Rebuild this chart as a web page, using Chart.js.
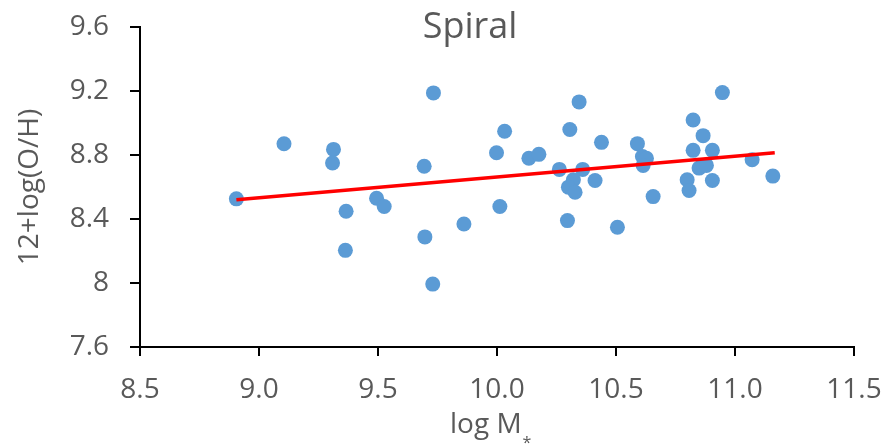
<!DOCTYPE html>
<html>
<head>
<meta charset="utf-8">
<script src="https://cdn.jsdelivr.net/npm/chart.js@4"></script>
<style>
  html, body { margin: 0; padding: 0; background: #fff; }
  #wrap { width: 886px; height: 444px; }
</style>
</head>
<body>
<div id="wrap"><canvas id="chartSpiral"></canvas></div>
<script>
// valores
const logMass = [8.905, 9.105, 9.313, 9.309, 9.366, 9.363, 9.733, 9.694, 9.494, 9.526,
  9.697, 9.73, 9.861, 10.345, 10.032, 9.998, 10.134, 10.176, 10.306, 10.439,
  10.59, 10.824, 10.866, 10.824, 10.262, 10.36, 10.321, 10.3, 10.328, 10.412,
  10.611, 10.628, 10.614, 10.656, 10.799, 10.807, 10.849, 10.012, 10.296, 10.506,
  10.947, 10.905, 10.88, 11.072, 11.159, 10.905];
const logOH = [8.526, 8.87, 8.835, 8.75, 8.448, 8.204, 9.188, 8.73, 8.53, 8.478,
  8.288, 7.993, 8.369, 9.132, 8.948, 8.814, 8.78, 8.804, 8.959, 8.879,
  8.871, 9.019, 8.921, 8.829, 8.71, 8.71, 8.645, 8.599, 8.567, 8.641,
  8.791, 8.78, 8.735, 8.54, 8.645, 8.578, 8.718, 8.478, 8.39, 8.348,
  9.19, 8.829, 8.735, 8.77, 8.668, 8.641];

// linea de tendencia (extremos)
const trendX = [8.905, 11.167];
const trendY = [8.52, 8.814];

const xTickLabels = ['8.5', '9.0', '9.5', '10.0', '10.5', '11.0', '11.5'];
const yTickLabels = ['7.6', '8', '8.4', '8.8', '9.2', '9.6'];

const textColor = '#595959';
Chart.defaults.font.family = '"Open Sans", sans-serif';

// titulo y etiqueta del eje x (con el asterisco en subindice)
const textosPlugin = {
  id: 'textosSpiral',
  afterDraw(chart) {
    const ctx = chart.ctx;
    ctx.save();
    ctx.fillStyle = textColor;
    ctx.textBaseline = 'alphabetic';

    ctx.font = '36px "Open Sans", sans-serif';
    ctx.textAlign = 'center';
    ctx.fillText('Spiral', 470, 38);

    ctx.font = '28px "Open Sans", sans-serif';
    ctx.textAlign = 'left';
    const base = 'log M';
    const w = ctx.measureText(base).width;
    ctx.fillText(base, 450, 433);
    ctx.font = '16px "Open Sans", sans-serif';
    ctx.fillText('*', 450 + w + 1, 448);
    ctx.restore();
  }
};

// quitar el relleno automatico de las escalas, lo maneja layout.padding
function sinRelleno(scale) {
  scale.paddingTop = 0;
  scale.paddingBottom = 0;
  scale.paddingLeft = 0;
  scale.paddingRight = 0;
}

new Chart(document.getElementById('chartSpiral'), {
  type: 'scatter',
  data: {
    datasets: [{
      type: 'line',
      data: trendX.map((x, i) => ({ x: x, y: trendY[i] })),
      borderColor: '#FF0000',
      borderWidth: 3.5,
      pointRadius: 0,
      fill: false,
      order: 0
    }, {
      data: logMass.map((x, i) => ({ x: x, y: logOH[i] })),
      backgroundColor: '#5B9BD5',
      borderWidth: 0,
      pointRadius: 7.5,
      pointHoverRadius: 7.5,
      order: 1
    }]
  },
  options: {
    responsive: true,
    maintainAspectRatio: false,
    animation: false,
    layout: { padding: { top: 27, right: 32, bottom: 0, left: 0 } },
    plugins: {
      legend: { display: false },
      tooltip: { enabled: false }
    },
    scales: {
      x: {
        type: 'linear',
        min: 8.5,
        max: 11.5,
        ticks: {
          stepSize: 0.5,
          color: textColor,
          font: { size: 28 },
          padding: 17,
          callback: (v, i) => xTickLabels[i]
        },
        grid: {
          drawOnChartArea: false,
          drawTicks: true,
          tickLength: 9,
          color: '#000',
          lineWidth: 2
        },
        border: { color: '#000', width: 2 },
        afterFit(scale) { scale.height = 97; sinRelleno(scale); }
      },
      y: {
        type: 'linear',
        min: 7.6,
        max: 9.6,
        ticks: {
          stepSize: 0.4,
          color: textColor,
          font: { size: 28 },
          padding: 21,
          callback: (v, i) => yTickLabels[i]
        },
        grid: {
          drawOnChartArea: false,
          drawTicks: true,
          tickLength: 10,
          color: '#000',
          lineWidth: 2
        },
        border: { color: '#000', width: 2 },
        title: {
          display: true,
          text: '12+log(O/H)',
          color: textColor,
          font: { size: 28 },
          padding: { top: 13, bottom: 0 }
        },
        afterFit(scale) { scale.width = 140; sinRelleno(scale); }
      }
    }
  },
  plugins: [textosPlugin]
});
</script>
</body>
</html>
